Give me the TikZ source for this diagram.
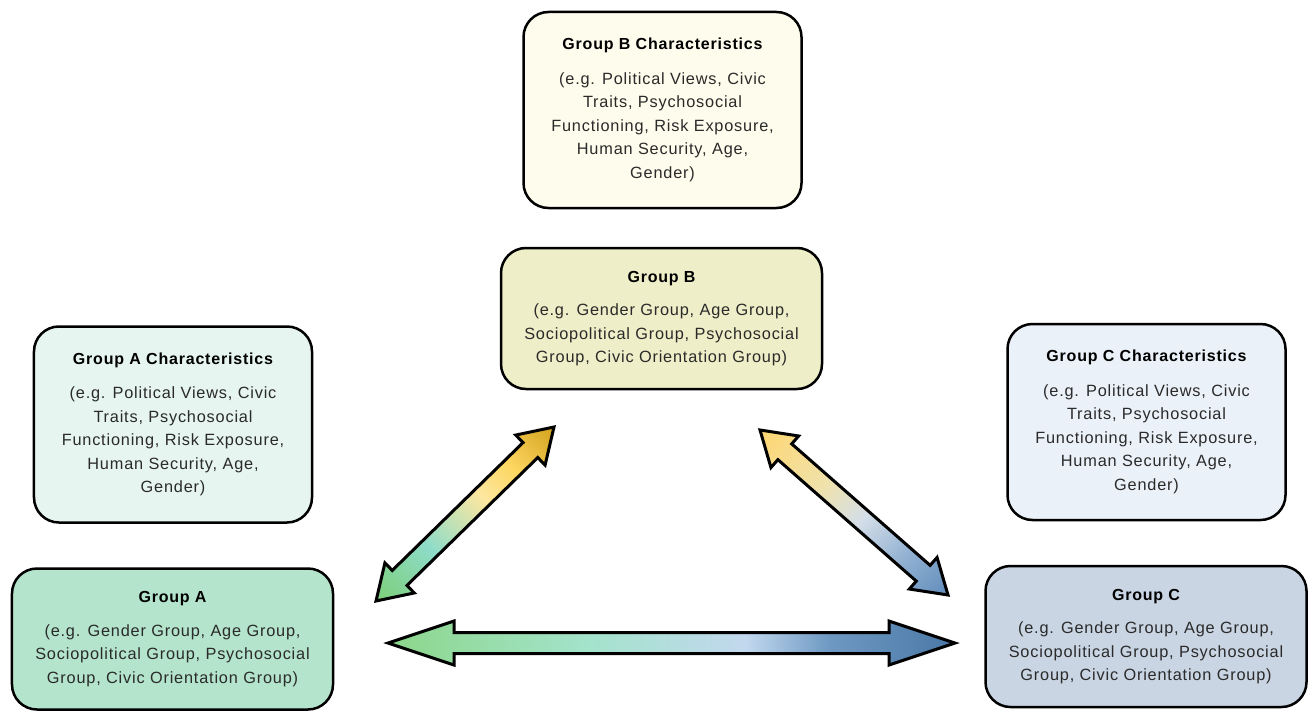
\documentclass[tikz,border=0pt]{standalone}
\usepackage{fontspec}
\usetikzlibrary{calc}
\newfontfamily\boxfont{Liberation Sans}[LetterSpace=5]
\definecolor{fillA}{HTML}{B4E5CC}
\definecolor{fillAc}{HTML}{E6F5F0}
\definecolor{fillB}{HTML}{EEEEC8}
\definecolor{fillBc}{HTML}{FEFCEC}
\definecolor{fillC}{HTML}{C9D5E3}
\definecolor{fillCc}{HTML}{EBF1F8}
\definecolor{txt}{HTML}{2A2A2A}
% arrow colours
\definecolor{agreen}{HTML}{8CD68A}
\definecolor{amint}{HTML}{A3E3CB}
\definecolor{alblue}{HTML}{C2D8EE}
\definecolor{ambl}{HTML}{6D98C2}
\definecolor{adblue}{HTML}{4A78A6}
\definecolor{bgreen}{HTML}{7ECF7E}
\definecolor{bteal}{HTML}{8EDCC8}
\definecolor{blyel}{HTML}{FDE7A0}
\definecolor{byel}{HTML}{FCD660}
\definecolor{bgold}{HTML}{D7A623}
\definecolor{cyel}{HTML}{FDD775}
\definecolor{cpale}{HTML}{F0E2AA}
\definecolor{clight}{HTML}{D4DEE8}
\definecolor{cmid}{HTML}{96B4D3}
\definecolor{cblue}{HTML}{6590BE}
\pgfdeclarehorizontalshading{shAC}{100bp}{color(0bp)=(agreen); color(25bp)=(agreen); color(42.5bp)=(amint); color(56.5bp)=(alblue); color(64bp)=(ambl); color(75bp)=(adblue); color(100bp)=(adblue)}
\pgfdeclarehorizontalshading{shAB}{100bp}{color(0bp)=(bgreen); color(16bp)=(bgreen); color(36bp)=(bteal); color(57bp)=(blyel); color(69bp)=(byel); color(84bp)=(bgold); color(100bp)=(bgold)}
\pgfdeclarehorizontalshading{shBC}{100bp}{color(0bp)=(cyel); color(16bp)=(cyel); color(38bp)=(cpale); color(53bp)=(clight); color(68bp)=(cmid); color(84bp)=(cblue); color(100bp)=(cblue)}
% double arrow outline: #1 tip, #2 tip, #3 head length, #4 head half width, #5 shaft half width
\newcommand\dblarrowpath[5]{(#1) -- ($(#1)!#3!(#2)!#4!90:(#2)$) -- ($(#1)!#3!(#2)!#5!90:(#2)$) -- ($(#2)!#3!(#1)!#5!-90:(#1)$) -- ($(#2)!#3!(#1)!#4!-90:(#1)$) -- (#2) -- ($(#2)!#3!(#1)!#4!90:(#1)$) -- ($(#2)!#3!(#1)!#5!90:(#1)$) -- ($(#1)!#3!(#2)!#5!-90:(#2)$) -- ($(#1)!#3!(#2)!#4!-90:(#2)$) -- cycle}
\tikzset{
  box/.style={draw=black, line width=2.5bp, rounded corners=25bp, align=center, inner sep=0pt,
    font=\boxfont\fontsize{16.3bp}{23.5bp}\selectfont, text=txt},
  grpbox/.style={box, minimum width=321bp, minimum height=141bp},
  chrbox/.style={box, minimum width=278bp, minimum height=196bp},
  dblarrow/.style={draw=black, line width=3bp, line join=miter},
}
\newcommand\ttlfmt[1]{{\bfseries\color{black}\fontsize{16bp}{23.5bp}\selectfont #1}}
\begin{document}
\begin{tikzpicture}[x=1bp, y=-1bp]
\useasboundingbox (0,0) rectangle (1309,711);
% boxes
\node[chrbox, fill=fillBc] (bchar) at (662.5,110) {\ttlfmt{Group B Characteristics}\\[11bp](e.g. Political Views, Civic\\Traits, Psychosocial\\Functioning, Risk Exposure,\\Human Security, Age,\\Gender)};
\node[grpbox, fill=fillB] (bgrp) at (661.5,318.5) {\ttlfmt{Group B}\\[10bp](e.g. Gender Group, Age Group,\\Sociopolitical Group, Psychosocial\\Group, Civic Orientation Group)};
\node[chrbox, fill=fillAc] (achar) at (173,424.5) {\ttlfmt{Group A Characteristics}\\[11bp](e.g. Political Views, Civic\\Traits, Psychosocial\\Functioning, Risk Exposure,\\Human Security, Age,\\Gender)};
\node[grpbox, fill=fillA] (agrp) at (172.5,639) {\ttlfmt{Group A}\\[10bp](e.g. Gender Group, Age Group,\\Sociopolitical Group, Psychosocial\\Group, Civic Orientation Group)};
\node[chrbox, fill=fillCc] (cchar) at (1146.5,422) {\ttlfmt{Group C Characteristics}\\[11bp](e.g. Political Views, Civic\\Traits, Psychosocial\\Functioning, Risk Exposure,\\Human Security, Age,\\Gender)};
\node[grpbox, fill=fillC] (cgrp) at (1146,636.5) {\ttlfmt{Group C}\\[10bp](e.g. Gender Group, Age Group,\\Sociopolitical Group, Psychosocial\\Group, Civic Orientation Group)};
% arrow ends
\coordinate (abA) at (376,601);
\coordinate (abB) at (554,427);
\coordinate (bcB) at (760,430);
\coordinate (bcC) at (948,595);
\coordinate (acA) at (388,643);
\coordinate (acC) at (955,643);
% arrows
\shadedraw[dblarrow, shading=shAB, shading angle=45] \dblarrowpath{abA}{abB}{33bp}{21bp}{10.5bp};
\shadedraw[dblarrow, shading=shBC, shading angle=-45] \dblarrowpath{bcB}{bcC}{33bp}{21bp}{10.5bp};
\shadedraw[dblarrow, shading=shAC, shading angle=0] \dblarrowpath{acA}{acC}{66bp}{22bp}{10.5bp};
\end{tikzpicture}
\end{document}
